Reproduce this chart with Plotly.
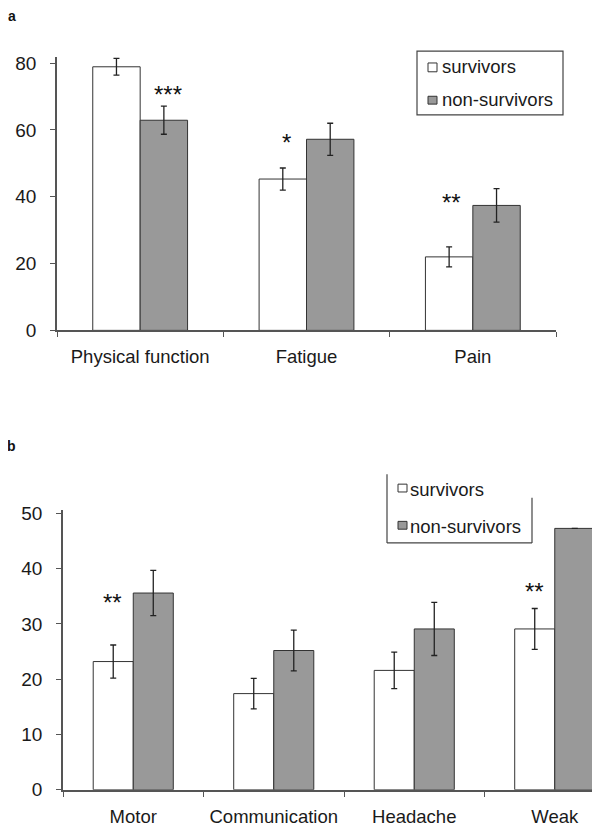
import plotly.graph_objects as go

# Panel a data
cats_a = ["Physical function", "Fatigue", "Pain"]
surv_a = [78.9, 45.3, 22.0]
surv_a_err = [2.5, 3.3, 3.0]
nons_a = [62.9, 57.2, 37.4]
nons_a_err = [4.2, 4.8, 5.0]
yticks_a = [0, 20, 40, 60, 80]

# Panel b data
cats_b = ["Motor", "Communication", "Headache", "Weak"]
surv_b = [23.2, 17.4, 21.6, 29.1]
surv_b_err = [3.0, 2.75, 3.3, 3.7]
nons_b = [35.6, 25.2, 29.1, 47.3]
nons_b_err = [4.1, 3.7, 4.8, 0]
yticks_b = [0, 10, 20, 30, 40, 50]

legend_names = ["survivors", "non-survivors"]

# significance marks: (category index, offset, value, text)
sig_a = [(0, 0.166, 72.6, "***"), (1, -0.12, 58.2, "*"), (2, -0.127, 40.3, "**")]
sig_b = [(0, -0.15, 35.1, "**"), (3, -0.142, 37.2, "**")]

# the page body has an 8px margin; the figure fills the rest of the 600x836 window
OFF = 8
W, H = 600 - OFF, 836 - OFF
FONT = "Liberation Sans, Arial, sans-serif"
GREY = "#999999"
EDGE = "#333333"
TXT = "#1a1a1a"

fig = go.Figure()


def add_pair(cats, s, se, n, ne, xa, ya):
    fig.add_trace(go.Bar(x=cats, y=s, name=legend_names[0], xaxis=xa, yaxis=ya,
                         marker=dict(color="white", line=dict(color=EDGE, width=1)),
                         error_y=dict(type="data", array=se, color="#222", thickness=1.3, width=3)))
    fig.add_trace(go.Bar(x=cats, y=n, name=legend_names[1], xaxis=xa, yaxis=ya,
                         marker=dict(color=GREY, line=dict(color=EDGE, width=1)),
                         error_y=dict(type="data", array=ne, color="#222", thickness=1.3, width=3)))


add_pair(cats_a, surv_a, surv_a_err, nons_a, nons_a_err, "x", "y")
add_pair(cats_b, surv_b, surv_b_err, nons_b, nons_b_err, "x2", "y2")


def px(p):  # window pixel x -> paper
    return (p - OFF) / W


def py(p):  # window pixel y (from top) -> paper
    return 1 - (p - OFF) / H


line_common = dict(showgrid=False, zeroline=False, showline=True, linecolor="#555",
                   linewidth=1.6, ticks="outside", ticklen=5, tickcolor="#555")
xfont = dict(family=FONT, size=18.5, color=TXT)
yfont = dict(family=FONT, size=19, color=TXT)

fig.update_layout(
    width=W, height=H, margin=dict(l=0, r=0, t=0, b=0),
    paper_bgcolor="white", plot_bgcolor="white",
    barmode="group", bargap=0.43, bargroupgap=0,
    font=dict(family=FONT, color=TXT),
    showlegend=False,
    xaxis=dict(domain=[px(57), px(556)], anchor="y", type="category",
               tickson="boundaries", ticklabelstandoff=9, tickfont=xfont, **line_common),
    yaxis=dict(domain=[py(331), py(52)], anchor="x", range=[0, 81.8],
               tickvals=yticks_a, ticklabelstandoff=10, tickfont=yfont, **line_common),
    xaxis2=dict(domain=[px(63), 1.0], anchor="y2", type="category",
                range=[-0.5, (600 - 63) / 140.5 - 0.5], tickson="boundaries",
                ticklabelstandoff=9, tickfont=xfont, **line_common),
    yaxis2=dict(domain=[py(800), py(514)], anchor="x2", range=[0, 50.7],
                tickvals=yticks_b, ticklabelstandoff=10, tickfont=yfont, **line_common),
)

ann = []
for i, off, v, t in sig_a:
    ann.append(dict(x=i + off, y=v, xref="x", yref="y", text=t, showarrow=False,
                    yshift=-7, font=dict(family=FONT, size=24, color="#111")))
for i, off, v, t in sig_b:
    ann.append(dict(x=i + off, y=v, xref="x2", yref="y2", text=t, showarrow=False,
                    yshift=-7, font=dict(family=FONT, size=24, color="#111")))
ann.append(dict(x=px(6), y=py(10), xref="paper", yref="paper", text="<b>a</b>",
                showarrow=False, xanchor="left", yanchor="middle",
                font=dict(family=FONT, size=14, color="#111")))
ann.append(dict(x=px(5), y=py(449), xref="paper", yref="paper", text="<b>b</b>",
                showarrow=False, xanchor="left", yanchor="middle",
                font=dict(family=FONT, size=14, color="#111")))

shapes = []
LEG_LINE = dict(color="#444", width=1.2)

# legend a (box, swatches, labels)
shapes.append(dict(type="rect", xref="paper", yref="paper", x0=px(417), x1=px(563),
                   y0=py(111), y1=py(46), line=LEG_LINE, fillcolor="white"))
leg_a_rows = [(58, 67, "white"), (92, 100, GREY)]
for (t, b, c), name in zip(leg_a_rows, legend_names):
    shapes.append(dict(type="rect", xref="paper", yref="paper", x0=px(428), x1=px(437),
                       y0=py(b), y1=py(t), line=dict(color=EDGE, width=1), fillcolor=c))
    ann.append(dict(x=px(440), y=py((t + b) / 2 - 1), xref="paper", yref="paper", text=name,
                    showarrow=False, xanchor="left", yanchor="middle",
                    font=dict(family=FONT, size=18.5, color=TXT)))

# legend b (top edge cut off in the source figure)
shapes.append(dict(type="line", xref="paper", yref="paper", x0=px(387), x1=px(387),
                   y0=py(478), y1=py(548), line=LEG_LINE))
shapes.append(dict(type="line", xref="paper", yref="paper", x0=px(387), x1=px(532),
                   y0=py(548), y1=py(548), line=LEG_LINE))
shapes.append(dict(type="line", xref="paper", yref="paper", x0=px(532), x1=px(532),
                   y0=py(502), y1=py(548), line=LEG_LINE))
leg_b_rows = [(488, 496, "white"), (526, 534, GREY)]
for (t, b, c), name in zip(leg_b_rows, legend_names):
    shapes.append(dict(type="rect", xref="paper", yref="paper", x0=px(398), x1=px(407),
                       y0=py(b), y1=py(t), line=dict(color=EDGE, width=1), fillcolor=c))
    ann.append(dict(x=px(408), y=py((t + b) / 2 + 1), xref="paper", yref="paper", text=name,
                    showarrow=False, xanchor="left", yanchor="middle",
                    font=dict(family=FONT, size=18.5, color=TXT)))

fig.update_layout(annotations=ann, shapes=shapes)

fig.write_html("out.html")
